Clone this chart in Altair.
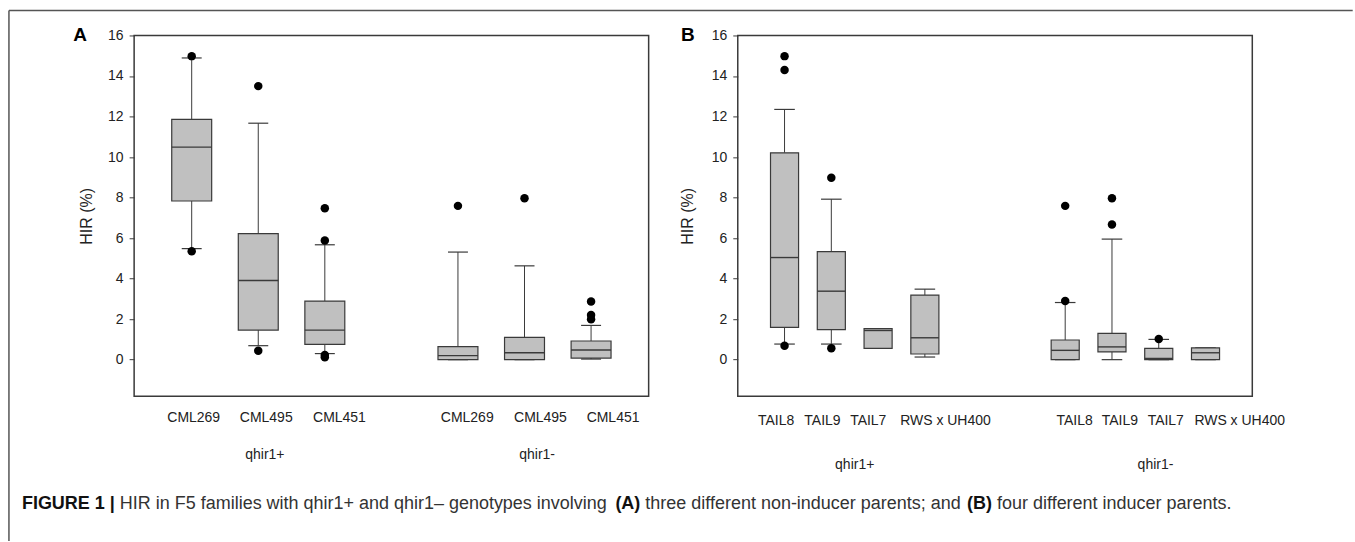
import altair as alt
import pandas as pd

# ---------------- Panel A data ----------------
a_cats = ["CML269", "CML495", "CML451", "CML269", "CML495", "CML451"]
a_pos = [1, 2, 3, 5, 6, 7]
a_q1 = [7.83, 1.46, 0.75, 0.0, 0.0, 0.08]
a_med = [10.49, 3.91, 1.46, 0.20, 0.34, 0.48]
a_q3 = [11.86, 6.22, 2.89, 0.64, 1.10, 0.92]
a_wlo = [5.48, 0.69, 0.30, 0.0, 0.0, 0.03]
a_whi = [14.89, 11.67, 5.67, 5.31, 4.63, 1.69]
a_out_pos = [1, 1, 2, 2, 3, 3, 3, 3, 5, 6, 7, 7, 7]
a_out_val = [14.98, 5.35, 13.5, 0.44, 7.47, 5.88, 0.23, 0.12, 7.59, 7.97, 2.87, 2.20, 1.99]
a_label_pos = [1.03, 2.12, 3.22, 5.14, 6.24, 7.33]
a_groups = ["qhir1+", "qhir1-"]
a_group_pos = [2.10, 6.19]

# ---------------- Panel B data ----------------
b_cats = ["TAIL8", "TAIL9", "TAIL7", "RWS x UH400", "TAIL8", "TAIL9", "TAIL7", "RWS x UH400"]
b_pos = [1, 2, 3, 4, 7, 8, 9, 10]
b_q1 = [1.59, 1.48, 0.56, 0.28, 0.0, 0.38, 0.0, 0.0]
b_med = [5.04, 3.38, 1.44, 1.08, 0.46, 0.63, 0.06, 0.34]
b_q3 = [10.21, 5.33, 1.53, 3.19, 0.97, 1.30, 0.56, 0.58]
b_wlo = [0.77, 0.77, 0.56, 0.13, 0.0, 0.0, 0.0, 0.0]
b_whi = [12.35, 7.92, 1.53, 3.48, 2.82, 5.95, 1.0, 0.58]
b_out_pos = [1, 1, 1, 2, 2, 7, 7, 8, 8, 9]
b_out_val = [14.98, 14.3, 0.69, 8.98, 0.56, 7.59, 2.89, 7.97, 6.67, 1.02]
b_label_pos = [0.82, 1.81, 2.79, 4.44, 7.20, 8.17, 9.15, 10.73]
b_groups = ["qhir1+", "qhir1-"]
b_group_pos = [2.50, 8.93]

y_ticks = [0, 2, 4, 6, 8, 10, 12, 14, 16]

FONT = "Liberation Sans"
EDGE = "#3a3a3a"
FILL = "#c0c0c0"
W, H = 515, 361


def panel(cats, pos, q1, med, q3, wlo, whi, out_pos, out_val, label_pos,
          groups, group_pos, xdomain, half_box, half_cap, letter, letter_x,
          title_x, label_y, group_y):
    xs = alt.Scale(domain=xdomain, nice=False, zero=False)
    ys = alt.Scale(domain=[-1.8, 16], nice=False, zero=False)
    yaxis = alt.Axis(
        values=y_ticks, title="HIR (%)", domain=False, grid=False,
        tickSize=5, tickColor=EDGE, labelPadding=6, labelFontSize=14,
        labelFont=FONT, labelColor="#222222", titleFont=FONT,
        titleFontSize=16, titleFontWeight="normal", titleColor="#222222",
        titleX=title_x, titleY=H / 2, titleAngle=-90, titleAlign="center",
        titleBaseline="middle")
    box = pd.DataFrame(dict(cat=cats, pos=pos, q1=q1, med=med, q3=q3, wlo=wlo, whi=whi))
    base = alt.Chart(box).transform_calculate(
        lo=f"datum.pos - {half_box}", hi=f"datum.pos + {half_box}",
        clo=f"datum.pos - {half_cap}", chi=f"datum.pos + {half_cap}")

    whisk_lo = base.mark_rule(color=EDGE, strokeWidth=1).encode(
        x=alt.X("pos:Q", scale=xs, axis=None),
        y=alt.Y("wlo:Q", scale=ys, axis=yaxis), y2="q1:Q")
    whisk_hi = base.mark_rule(color=EDGE, strokeWidth=1).encode(
        x=alt.X("pos:Q", scale=xs, axis=None),
        y=alt.Y("q3:Q", scale=ys, axis=yaxis), y2="whi:Q")
    cap_lo = base.mark_rule(color=EDGE, strokeWidth=1.2).encode(
        x=alt.X("clo:Q", scale=xs, axis=None), x2="chi:Q",
        y=alt.Y("wlo:Q", scale=ys, axis=yaxis))
    cap_hi = base.mark_rule(color=EDGE, strokeWidth=1.2).encode(
        x=alt.X("clo:Q", scale=xs, axis=None), x2="chi:Q",
        y=alt.Y("whi:Q", scale=ys, axis=yaxis))
    rect = base.mark_rect(fill=FILL, stroke=EDGE, strokeWidth=1.2).encode(
        x=alt.X("lo:Q", scale=xs, axis=None), x2="hi:Q",
        y=alt.Y("q1:Q", scale=ys, axis=yaxis), y2="q3:Q")
    median = base.mark_rule(color=EDGE, strokeWidth=1.4).encode(
        x=alt.X("lo:Q", scale=xs, axis=None), x2="hi:Q",
        y=alt.Y("med:Q", scale=ys, axis=yaxis))

    outl = alt.Chart(pd.DataFrame(dict(pos=out_pos, val=out_val))).mark_circle(
        size=72, color="black", opacity=1).encode(
        x=alt.X("pos:Q", scale=xs, axis=None),
        y=alt.Y("val:Q", scale=ys, axis=yaxis))

    labels = alt.Chart(pd.DataFrame(dict(pos=label_pos, cat=cats))).mark_text(
        font=FONT, fontSize=14, color="#222222", baseline="middle", align="center").encode(
        x=alt.X("pos:Q", scale=xs, axis=None), y=alt.value(label_y), text="cat:N")
    glabels = alt.Chart(pd.DataFrame(dict(pos=group_pos, g=groups))).mark_text(
        font=FONT, fontSize=14, color="#222222", baseline="middle", align="center").encode(
        x=alt.X("pos:Q", scale=xs, axis=None), y=alt.value(group_y), text="g:N")
    let = alt.Chart(pd.DataFrame(dict(t=[letter]))).mark_text(
        font=FONT, fontSize=19, fontWeight="bold", color="black",
        baseline="middle", align="center").encode(
        x=alt.value(letter_x), y=alt.value(0), text="t:N")

    return [whisk_lo, whisk_hi, cap_lo, cap_hi, rect, median, outl, labels, glabels, let]


layers_a = panel(a_cats, a_pos, a_q1, a_med, a_q3, a_wlo, a_whi, a_out_pos, a_out_val,
                 a_label_pos, a_groups, a_group_pos, [0.135, 7.865], 0.30, 0.15,
                 "A", -54, -48, 383, 420)
layers_b = panel(b_cats, b_pos, b_q1, b_med, b_q3, b_wlo, b_whi, b_out_pos, b_out_val,
                 b_label_pos, b_groups, b_group_pos, [0.0, 11.0], 0.30, 0.22,
                 "B", -50, -50, 386, 430)

# ---------------- caption and figure frame (decoration) ----------------
cap_segments = ["FIGURE 1 |",
                "HIR in F5 families with qhir1+ and qhir1\u2013 genotypes involving",
                "(A)", "three different non-inducer parents; and", "(B)",
                "four different inducer parents."]
cap_bold = [True, False, True, False, True, False]
cap_x = [21, 119, 615, 645, 967, 997]
LEFT_A = 133.3
TOP = 34
caption = []
for s, b, x in zip(cap_segments, cap_bold, cap_x):
    caption.append(alt.Chart(pd.DataFrame(dict(t=[s]))).mark_text(
        font=FONT, fontSize=18, fontWeight="bold" if b else "normal",
        color="#111111" if b else "#333333", align="left", baseline="middle").encode(
        x=alt.value(x - LEFT_A), y=alt.value(503 - TOP), text="t:N"))

frame_df = pd.DataFrame(dict(k=[0]))
frame_top = alt.Chart(frame_df).mark_rule(color="#555555", strokeWidth=1.5).encode(
    x=alt.value(8 - LEFT_A), x2=alt.value(1353 - LEFT_A), y=alt.value(9 - TOP))
frame_left = alt.Chart(frame_df).mark_rule(color="#555555", strokeWidth=1.5).encode(
    x=alt.value(8 - LEFT_A), y=alt.value(9 - TOP), y2=alt.value(540 - TOP))

pa = alt.layer(*(layers_a + caption + [frame_top, frame_left])).properties(width=W, height=H)
pb = alt.layer(*layers_b).properties(width=W, height=H)

chart = alt.hconcat(pa, pb, spacing=737.5 - 133.3 - W, bounds="flush").properties(
    padding={"left": 7.25, "top": 8.25, "right": 0, "bottom": 0},
    background="white"
).configure_view(stroke=EDGE, strokeWidth=1.5)

chart.save("out.html", embed_options={"renderer": "svg", "actions": False})
